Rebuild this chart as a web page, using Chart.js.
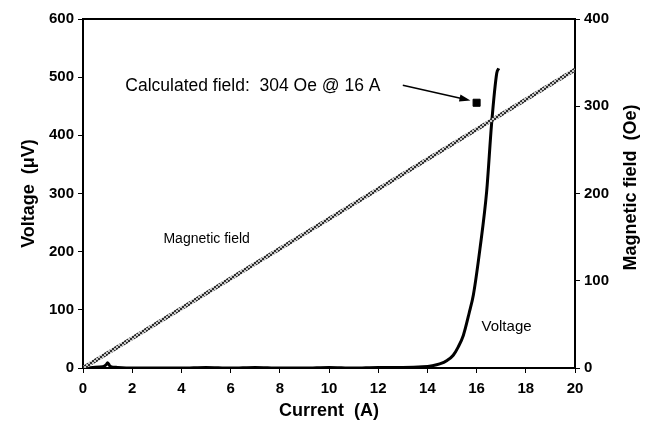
<!DOCTYPE html>
<html>
<head>
<meta charset="utf-8">
<script src="https://cdn.jsdelivr.net/npm/chart.js@4/dist/chart.umd.min.js"></script>
<style>
  html, body { margin: 0; padding: 0; background: #fff; }
  #wrap { width: 647px; height: 424px; }
</style>
</head>
<body>
<div id="wrap"><canvas id="chart"></canvas></div>
<script>
// current (A) and measured voltage (uV)
const currentA = [0, 0.4, 0.8, 0.95, 1.0, 1.1, 1.4, 2, 3, 4, 5, 6, 7, 8, 9, 10, 11, 12, 13, 13.8, 14.2, 14.5, 14.8, 15.05, 15.25, 15.46, 15.7, 15.87, 16.14, 16.41, 16.61, 16.82, 16.9];
const voltageUV = [0, 1, 2, 6, 9, 3, 1, 0, 0, 0, 1, 0, 1, 0, 0, 1, 0, 1, 1, 2, 4, 7, 13, 22, 36, 56, 95, 126, 206, 304, 420, 507, 515];

// magnetic field line (Oe) vs current
const fieldCurrent = [0, 20];
const fieldOe = [0, 342];

// calculated point
const calcCurrent = [16];
const calcField = [304];

const xTicks = [0, 2, 4, 6, 8, 10, 12, 14, 16, 18, 20];

const FAM = 'Liberation Sans, Arial, sans-serif';
const tickFont = { family: FAM, size: 15, weight: 'bold' };
const titleFont = { family: FAM, size: 18, weight: 'bold' };

// hatched grey pattern for the field line
function hatch() {
  const c = document.createElement('canvas');
  c.width = 4; c.height = 4;
  const g = c.getContext('2d');
  g.fillStyle = '#c8c8c8';
  g.fillRect(0, 0, 4, 4);
  g.fillStyle = '#2e2e2e';
  g.fillRect(0, 0, 2, 2);
  g.fillRect(2, 2, 2, 2);
  return g.createPattern(c, 'repeat');
}

const notes = {
  id: 'notes',
  afterDatasetsDraw(chart) {
    const { ctx, chartArea } = chart;
    const x = chart.scales.x, y = chart.scales.y;
    ctx.save();
    // top frame line
    ctx.strokeStyle = '#000';
    ctx.lineWidth = 2;
    ctx.beginPath();
    ctx.moveTo(chartArea.left, chartArea.top);
    ctx.lineTo(chartArea.right, chartArea.top);
    ctx.stroke();

    ctx.fillStyle = '#000';
    ctx.textBaseline = 'middle';
    ctx.font = '17.5px ' + FAM;
    ctx.fillText('Calculated field:  304 Oe @ 16 A', x.getPixelForValue(1.72), y.getPixelForValue(484));
    ctx.font = '14px ' + FAM;
    ctx.fillText('Magnetic field', x.getPixelForValue(3.27), y.getPixelForValue(222));
    ctx.font = '15px ' + FAM;
    ctx.fillText('Voltage', x.getPixelForValue(16.2), y.getPixelForValue(71));

    // arrow
    const x0 = x.getPixelForValue(13.0), y0 = y.getPixelForValue(486);
    const x1 = x.getPixelForValue(15.75), y1 = y.getPixelForValue(460);
    const a = Math.atan2(y1 - y0, x1 - x0);
    ctx.lineWidth = 1.5;
    ctx.beginPath();
    ctx.moveTo(x0, y0);
    ctx.lineTo(x1 - 8 * Math.cos(a), y1 - 8 * Math.sin(a));
    ctx.stroke();
    ctx.beginPath();
    ctx.moveTo(x1, y1);
    ctx.lineTo(x1 - 11 * Math.cos(a) + 3.5 * Math.sin(a), y1 - 11 * Math.sin(a) - 3.5 * Math.cos(a));
    ctx.lineTo(x1 - 11 * Math.cos(a) - 3.5 * Math.sin(a), y1 - 11 * Math.sin(a) + 3.5 * Math.cos(a));
    ctx.closePath();
    ctx.fill();

    // right axis title, reading bottom to top
    ctx.translate(chartArea.right + 56, (chartArea.top + chartArea.bottom) / 2 - 6);
    ctx.rotate(-Math.PI / 2);
    ctx.textAlign = 'center';
    ctx.font = 'bold 18px ' + FAM;
    ctx.fillText('Magnetic field  (Oe)', 0, 0);
    ctx.restore();
  }
};

const axisTitle = (text) => ({ display: true, text: text, color: '#000', font: titleFont, padding: 0 });

new Chart(document.getElementById('chart'), {
  type: 'scatter',
  data: {
    datasets: [
      {
        label: 'Magnetic field',
        data: fieldCurrent.map((c, i) => ({ x: c, y: fieldOe[i] })),
        yAxisID: 'y2',
        showLine: true,
        borderColor: hatch(),
        borderWidth: 4,
        pointRadius: 0
      },
      {
        label: 'Voltage',
        data: currentA.map((c, i) => ({ x: c, y: voltageUV[i] })),
        yAxisID: 'y',
        showLine: true,
        borderColor: '#000',
        borderWidth: 3,
        cubicInterpolationMode: 'monotone',
        pointRadius: 0
      },
      {
        label: 'Calculated field',
        data: calcCurrent.map((c, i) => ({ x: c, y: calcField[i] })),
        yAxisID: 'y2',
        pointStyle: 'rect',
        pointRadius: 5,
        backgroundColor: '#000',
        borderColor: '#000'
      }
    ]
  },
  options: {
    responsive: true,
    maintainAspectRatio: false,
    animation: false,
    layout: { padding: { top: 19, left: 18, right: 0, bottom: 2 } },
    plugins: { legend: { display: false }, tooltip: { enabled: false } },
    scales: {
      x: {
        type: 'linear', min: 0, max: 20,
        afterBuildTicks: (s) => { s.ticks = xTicks.map(v => ({ value: v })); },
        afterFit: (s) => { s.height = 54; },
        grid: { drawOnChartArea: false, tickLength: 5, color: '#000' },
        border: { color: '#000', width: 2 },
        ticks: { color: '#000', font: tickFont, padding: 7 },
        title: axisTitle('Current  (A)')
      },
      y: {
        position: 'left', min: 0, max: 600,
        afterFit: (s) => { s.width = 65; },
        grid: { drawOnChartArea: false, tickLength: 5, color: '#000' },
        border: { color: '#000', width: 2 },
        ticks: { color: '#000', font: tickFont, stepSize: 100, padding: 4 },
        title: axisTitle('Voltage  (\u03bcV)')
      },
      y2: {
        position: 'right', min: 0, max: 400,
        afterFit: (s) => { s.width = 72; },
        grid: { drawOnChartArea: false, tickLength: 5, color: '#000' },
        border: { color: '#000', width: 2 },
        ticks: { color: '#000', font: tickFont, stepSize: 100, padding: 4 }
      }
    }
  },
  plugins: [notes]
});
</script>
</body>
</html>
